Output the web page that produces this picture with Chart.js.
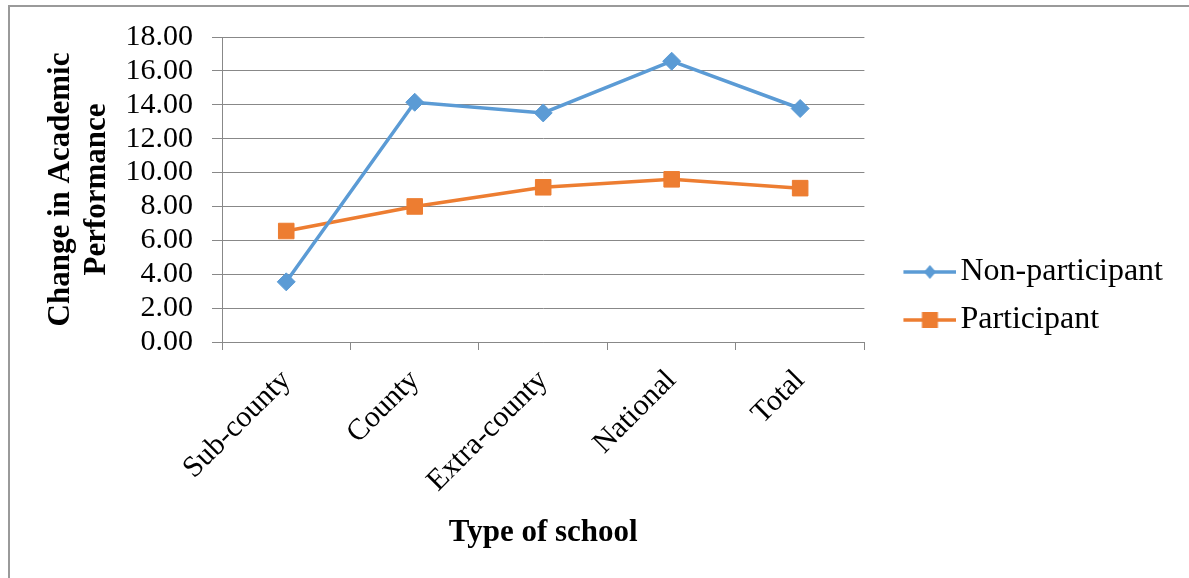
<!DOCTYPE html>
<html>
<head>
<meta charset="utf-8">
<script src="https://cdn.jsdelivr.net/npm/chart.js@4/dist/chart.umd.min.js"></script>
<style>
  html, body { margin: 0; padding: 0; background: #ffffff; overflow: hidden; }
  #wrap { position: relative; width: 1189px; height: 578px; }
  #chart { position: absolute; left: 0; top: 0; display: block; }
  #frame {
    position: absolute; left: 8px; top: 5px; width: 1300px; height: 700px;
    border-top: 2px solid #9a9a9a; border-left: 2px solid #9a9a9a;
    pointer-events: none;
  }
</style>
</head>
<body>
<div id="wrap">
  <canvas id="chart" width="1189" height="578"></canvas>
  <div id="frame"></div>
</div>
<script>
// School categories along the x axis
const categories = ['Sub-county', 'County', 'Extra-county', 'National', 'Total'];

// Mean change in academic performance per school type
const nonParticipant = [3.55, 14.15, 13.52, 16.57, 13.78];
const participant    = [6.55, 8.00, 9.13, 9.60, 9.08];

// Y axis range and tick step
const yTicks = { min: 0, max: 18, step: 2 };

const BLUE = '#5B9BD5';
const ORANGE = '#ED7D31';
const GRID = '#888888';
const FONT = "'Liberation Serif', 'Times New Roman', serif";

// Legend swatch: a short line with the series marker in its middle.
// The canvas is wider than the swatch so it sits toward the label.
function legendSwatch(color, shape) {
  const c = document.createElement('canvas');
  c.width = 88; c.height = 20;
  const g = c.getContext('2d');
  g.strokeStyle = color; g.lineWidth = 3.5;
  g.beginPath(); g.moveTo(35, 10); g.lineTo(88, 10); g.stroke();
  g.fillStyle = color;
  const cx = 61.5, cy = 10;
  if (shape === 'diamond') {
    g.beginPath();
    g.moveTo(cx, cy - 7); g.lineTo(cx + 6, cy); g.lineTo(cx, cy + 7); g.lineTo(cx - 6, cy);
    g.closePath(); g.fill();
  } else {
    g.fillRect(cx - 8, cy - 8, 16, 16);
  }
  return c;
}

const swatches = [legendSwatch(BLUE, 'diamond'), legendSwatch(ORANGE, 'square')];

new Chart(document.getElementById('chart'), {
  type: 'line',
  data: {
    labels: categories,
    datasets: [
      {
        label: 'Non-participant',
        data: nonParticipant,
        borderColor: BLUE,
        backgroundColor: BLUE,
        borderWidth: 3.5,
        pointStyle: 'rectRot',
        pointRadius: 9,
        pointHoverRadius: 9,
        pointBorderWidth: 1,
        tension: 0
      },
      {
        label: 'Participant',
        data: participant,
        borderColor: ORANGE,
        backgroundColor: ORANGE,
        borderWidth: 3.5,
        pointStyle: 'rect',
        pointRadius: 11,
        pointHoverRadius: 11,
        pointBorderWidth: 1,
        tension: 0
      }
    ]
  },
  options: {
    responsive: false,
    animation: false,
    devicePixelRatio: 1,
    layout: { padding: { top: 37, left: 0, right: 16, bottom: 23 } },
    plugins: {
      tooltip: { enabled: false },
      legend: {
        position: 'right',
        align: 'center',
        maxWidth: 420,
        labels: {
          usePointStyle: true,
          pointStyleWidth: 64,
          padding: 16,
          color: '#000000',
          font: { family: FONT, size: 32 },
          generateLabels(chart) {
            return chart.data.datasets.map((ds, i) => ({
              text: ds.label,
              pointStyle: swatches[i],
              fillStyle: ds.backgroundColor,
              strokeStyle: ds.borderColor,
              lineWidth: 0,
              hidden: false,
              datasetIndex: i
            }));
          }
        }
      }
    },
    scales: {
      x: {
        type: 'category',
        offset: true,
        afterFit(scale) { scale.height = 213; },
        grid: {
          display: true,
          offset: true,
          drawOnChartArea: false,
          drawTicks: true,
          tickLength: 8,
          color: GRID,
          lineWidth: 1
        },
        border: { display: true, color: GRID, width: 1 },
        ticks: {
          color: '#000000',
          font: { family: FONT, size: 30 },
          maxRotation: 45,
          minRotation: 45,
          padding: 13,
          autoSkip: false
        },
        title: {
          display: true,
          text: 'Type of school',
          color: '#000000',
          font: { family: FONT, size: 31, weight: 'bold' },
          padding: { top: 0, bottom: 3 }
        }
      },
      y: {
        min: yTicks.min,
        max: yTicks.max,
        afterFit(scale) { scale.width = 222; },
        grid: {
          color: GRID,
          lineWidth: 1,
          drawTicks: true,
          tickLength: 10
        },
        border: { display: true, color: GRID, width: 1 },
        ticks: {
          stepSize: yTicks.step,
          autoSkip: false,
          color: '#000000',
          font: { family: FONT, size: 30 },
          padding: 19,
          callback: (v) => Number(v).toFixed(2)
        },
        title: {
          display: true,
          text: ['Change in Academic', 'Performance'],
          color: '#000000',
          font: { family: FONT, size: 31, weight: 'bold', lineHeight: 1.16 },
          padding: { top: 43, bottom: 0 }
        }
      }
    }
  }
});
</script>
</body>
</html>
